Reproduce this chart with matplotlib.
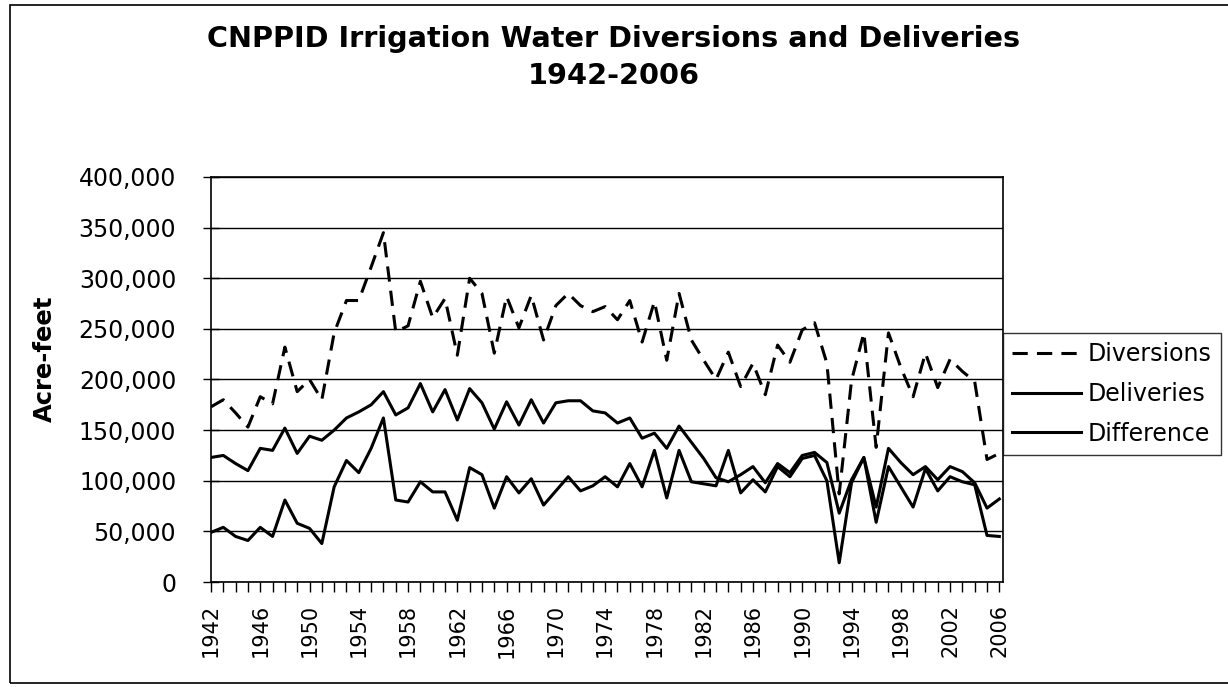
import matplotlib.pyplot as plt
from matplotlib.ticker import FuncFormatter, MultipleLocator
from matplotlib.patches import Rectangle

years = list(range(1942, 2007))

# acre-feet
diversions = [173, 180, 167, 153, 183, 176, 232, 188, 200, 180,
              246, 278, 278, 311, 345, 247, 253, 297, 261, 280,
              224, 300, 285, 226, 282, 251, 283, 239, 273, 285,
              273, 267, 272, 259, 278, 237, 277, 219, 285, 239,
              219, 200, 227, 193, 216, 185, 234, 217, 249, 256,
              216, 87, 199, 246, 133, 246, 212, 183, 226, 192,
              220, 208, 198, 121, 127]
deliveries = [123, 125, 117, 110, 132, 130, 152, 127, 144, 140,
              150, 162, 168, 175, 188, 165, 172, 196, 168, 190,
              160, 191, 177, 151, 178, 155, 180, 157, 177, 179,
              179, 169, 167, 157, 162, 142, 147, 132, 154, 138,
              122, 103, 99, 106, 114, 98, 117, 108, 125, 128,
              118, 68, 101, 123, 74, 132, 118, 106, 114, 101,
              114, 109, 98, 73, 82]
difference = [49, 54, 45, 41, 54, 45, 81, 58, 53, 38,
              94, 120, 108, 132, 162, 81, 79, 99, 89, 89,
              61, 113, 106, 73, 104, 88, 102, 76, 90, 104,
              90, 95, 104, 94, 117, 94, 130, 83, 130, 99,
              97, 95, 130, 88, 101, 89, 114, 104, 122, 125,
              100, 19, 98, 123, 59, 114, 94, 74, 112, 90,
              104, 99, 96, 46, 45]

diversions = [v * 1000 for v in diversions]
deliveries = [v * 1000 for v in deliveries]
difference = [v * 1000 for v in difference]

plt.rcParams['font.family'] = 'DejaVu Sans'

fig = plt.figure(figsize=(12.28, 6.87), dpi=100)
ax = fig.add_axes([0.1718, 0.1528, 0.8168 - 0.1718, 0.7424 - 0.1528])

ax.plot(years, diversions, c='black', linewidth=2.2, linestyle=(0, (5, 3)),
        label='Diversions')
ax.plot(years, deliveries, c='black', linewidth=2.2, label='Deliveries')
ax.plot(years, difference, c='black', linewidth=2.2, label='Difference')

ax.set_xlim(1942, 2006.3)
ax.set_ylim(0, 400000)
ax.yaxis.set_major_locator(MultipleLocator(50000))
ax.yaxis.set_major_formatter(FuncFormatter(lambda v, p: f'{int(v):,}'))
ax.grid(axis='y', color='black', linewidth=1)
ax.set_axisbelow(True)

ax.set_xticks(years, minor=True)
ax.set_xticks(years[::4])
ax.set_xticklabels([str(y) for y in years[::4]], rotation=90, fontsize=15)
ax.tick_params(axis='x', which='both', direction='out', length=7, width=1, pad=9)
ax.tick_params(axis='y', direction='inout', length=12, width=1, labelsize=17, pad=19)
for s in ax.spines.values():
    s.set_color('black')
    s.set_linewidth(1.2)

ax.set_ylabel('Acre-feet', fontsize=17.5, fontweight='bold')
ax.yaxis.set_label_coords(-0.195, 0.55)

fig.text(0.5, 0.916, 'CNPPID Irrigation Water Diversions and Deliveries\n1942-2006',
         ha='center', va='center', fontsize=20.7, fontweight='bold',
         linespacing=1.4)

leg = ax.legend(loc='upper left', bbox_to_anchor=(1003 / 1228, 1 - 333 / 687),
                bbox_transform=fig.transFigure, fontsize=17, frameon=True,
                fancybox=False, edgecolor='black', handlelength=2.9,
                handletextpad=0.3, borderpad=0.4, labelspacing=0.66,
                borderaxespad=0)
leg.get_frame().set_linewidth(1)

fig.patches.append(Rectangle((10 / 1228, 4 / 687), 1.01, 678 / 687, transform=fig.transFigure,
                             fill=False, edgecolor='black', linewidth=1.2))

plt.savefig('out.png')
